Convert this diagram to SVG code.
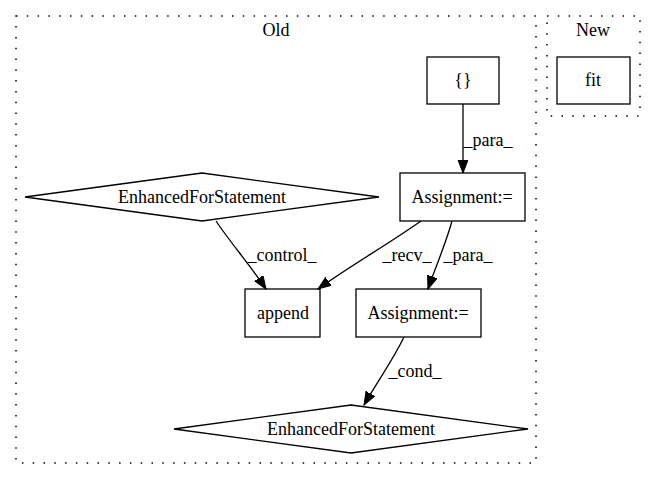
<svg xmlns="http://www.w3.org/2000/svg" width="656" height="480" viewBox="0 0 656 480">
<style>
text{font-family:"Liberation Serif","Times New Roman",serif;font-size:18px;fill:#000;text-anchor:middle}
.cl{fill:none;stroke:#000;stroke-width:1.5;stroke-dasharray:1.5,9.3}
.n{fill:none;stroke:#000;stroke-width:1.3}
.e{fill:none;stroke:#000;stroke-width:1.3;marker-end:url(#ah)}
</style>
<defs>
<marker id="ah" markerUnits="userSpaceOnUse" markerWidth="14" markerHeight="11" refX="13" refY="5" orient="auto">
<path d="M0,0 L13,5 L0,10 z" fill="#000" stroke="#000" stroke-width="1"/>
</marker>
</defs>
<rect fill="#fff" width="656" height="480"/>
<g id="cluster_old">
<rect class="cl" x="16" y="16" width="520" height="447"/>
<text x="276" y="36">Old</text>
</g>
<g id="cluster_new">
<rect class="cl" x="547" y="16" width="93" height="100"/>
<text x="593" y="36">New</text>
</g>
<g id="node_fit">
<rect class="n" x="557" y="57" width="73" height="47"/>
<text x="593" y="86">fit</text>
</g>
<g id="node_braces">
<rect class="n" x="427" y="57" width="72" height="47"/>
<text x="463" y="86">{}</text>
</g>
<g id="node_assign1">
<rect class="n" x="400" y="173" width="125" height="48"/>
<text x="462" y="203">Assignment:=</text>
</g>
<g id="node_efs1">
<polygon class="n" points="202,173 379,197 202,221 25,197"/>
<text x="202" y="203">EnhancedForStatement</text>
</g>
<g id="node_append">
<rect class="n" x="245" y="289" width="75" height="48"/>
<text x="283" y="319">append</text>
</g>
<g id="node_assign2">
<rect class="n" x="356" y="289" width="125" height="48"/>
<text x="418" y="319">Assignment:=</text>
</g>
<g id="node_efs2">
<polygon class="n" points="351,405 528,429 351,453 174,429"/>
<text x="351" y="435">EnhancedForStatement</text>
</g>
<g id="edges">
<path class="e" d="M463,104 L463,173"/>
<text x="488" y="146">_para_</text>
<path class="e" d="M216,221 C230,242 250,265 266,289"/>
<text x="282" y="261">_control_</text>
<path class="e" d="M421,221 C390,243 350,266 318,289"/>
<text x="407" y="261">_recv_</text>
<path class="e" d="M452,221 C446,243 436,266 428,289"/>
<text x="468" y="261">_para_</text>
<path class="e" d="M404,337 C393,360 377,382 364,405"/>
<text x="415" y="377">_cond_</text>
</g>
</svg>
